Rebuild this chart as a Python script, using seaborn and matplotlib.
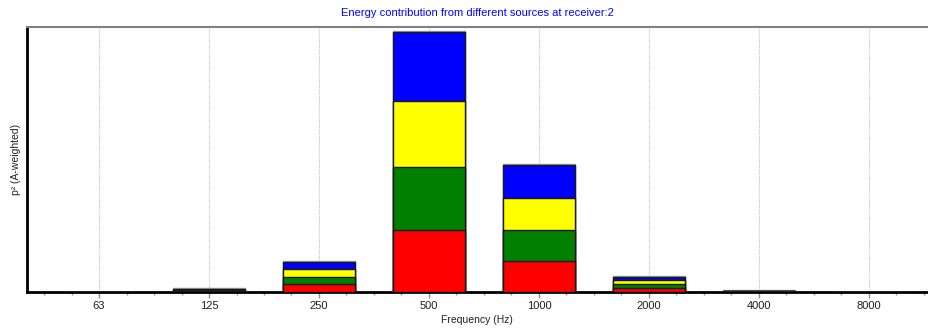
import numpy as np
import pandas as pd
import matplotlib
matplotlib.use("Agg")
import matplotlib.pyplot as plt
import seaborn as sns
from matplotlib.ticker import FixedLocator

freqs = ['63', '125', '250', '500', '1000', '2000', '4000', '8000']
red = [0, 0.6, 7.6, 61.4, 30.7, 3.8, 0.05, 0]
green = [0, 0.6, 7.4, 63.6, 31.3, 3.8, 0.05, 0]
yellow = [0, 0.6, 7.6, 65.7, 31.6, 3.7, 0.05, 0]
blue = [0, 0.6, 6.7, 69.3, 33.4, 3.5, 0.05, 0]
other = [0, 0.7, 1.3, 0.3, 1.0, 0.5, 1.2, 0]

series = [('red', red, '#ff0000'), ('green', green, '#008000'),
          ('yellow', yellow, '#ffff00'), ('blue', blue, '#0000ff'),
          ('other', other, '#ffffff')]

sns.set_theme(style="white")
plt.rcParams['font.family'] = ['Liberation Sans', 'DejaVu Sans']

fig = plt.figure(figsize=(9.29, 3.28), dpi=100)
ax = fig.add_axes([27/929, 36.5/328, 1 - 27/929 - 0.002, (291.5-27)/328])

cum = np.zeros(len(freqs))
layers = []
for name, vals, col in series:
    cum = cum + np.array(vals)
    layers.append((name, cum.copy(), col))

# draw from the full stack down so each lower layer overlays the upper ones
for name, tot, col in reversed(layers):
    df = pd.DataFrame({'freq': freqs, 'value': tot})
    ec = '#a0a0a0' if name == 'other' else '#1a1a1a'
    sns.barplot(data=df, x='freq', y='value', order=freqs, color=col,
                saturation=1, width=0.66, edgecolor=ec, linewidth=1.0,
                ax=ax, zorder=3)

ax.set_xlim(-0.655, 7.53)
ax.set_ylim(0, 264.5)
ax.set_yticks([])

ax.xaxis.set_minor_locator(FixedLocator(np.arange(-0.5, 7.6, 0.25)))
ax.tick_params(axis='x', which='major', length=4, width=1, color='#909090',
               labelsize=8, pad=3, labelcolor='#202020', bottom=True)
ax.tick_params(axis='x', which='minor', length=2, width=1, color='#909090',
               bottom=True)
ax.grid(axis='x', which='major', color='#c0c0c0', linestyle=(0, (1, 1)),
        linewidth=0.8, zorder=0)
ax.set_axisbelow(True)

for s in ['left', 'bottom']:
    ax.spines[s].set_color('black')
    ax.spines[s].set_linewidth(2)
ax.spines['top'].set_color('#808080')
ax.spines['top'].set_linewidth(1.5)
ax.spines['right'].set_visible(False)

ax.set_xlabel('Frequency (Hz)', fontsize=7.5, color='#202020', labelpad=3)
ax.set_ylabel('p² (A-weighted)', fontsize=7.5, color='#202020', labelpad=4)
ax.set_title('Energy contribution from different sources at receiver:2',
             fontsize=8, color='#0000ff', pad=8,
             family=['Liberation Sans Narrow', 'Liberation Sans', 'DejaVu Sans'])

fig.savefig('out.png', dpi=100)
